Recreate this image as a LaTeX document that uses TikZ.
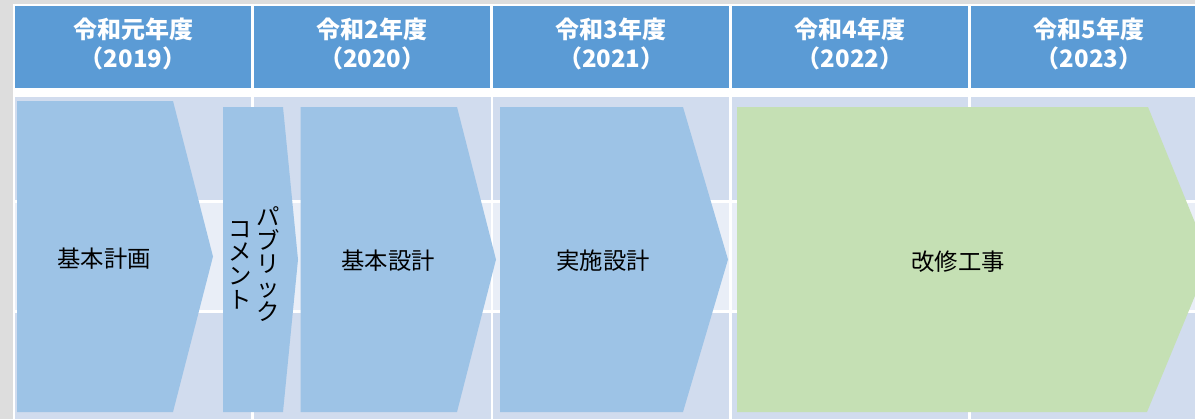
\documentclass[tikz,border=0pt]{standalone}
\usepackage{fontspec}
\setmainfont{Noto Sans CJK JP}
\usepackage{xcolor}
\usetikzlibrary{positioning}

\definecolor{hdrblue}{HTML}{5B9BD5}
\definecolor{rowdark}{HTML}{D1DCEE}
\definecolor{rowlight}{HTML}{E9EEF7}
\definecolor{chevblue}{HTML}{9DC3E6}
\definecolor{chevgreen}{HTML}{C5E0B4}
\definecolor{margingray}{HTML}{DDDDDD}

\begin{document}
\begin{tikzpicture}[x=0.75pt, y=-0.75pt,
  yearcell/.style={fill=hdrblue, minimum width=177pt, minimum height=61.5pt, inner sep=0pt},
  yeartext/.style={text=white, align=center, inner sep=0pt,
    font=\bfseries\fontsize{18}{21.75}\selectfont},
  phasetext/.style={inner sep=0pt, font=\fontsize{17.5}{21}\selectfont},
  tatetext/.style={align=center, inner sep=0pt, font=\fontsize{17.5}{17.7}\selectfont},
  gridline/.style={white, line width=2pt}]
  \useasboundingbox (0,0) rectangle (1195,419);
  \clip (0,0) rectangle (1195,419);

  % page and table background
  \fill[margingray] (0,0) rectangle (1195,419);
  \fill[white] (13,4) rectangle (1195,419);
  \fill[rowdark] (15,96.5) rectangle (1195,419);
  \fill[rowlight] (15,202) rectangle (1195,311);
  \draw[gridline] (15,201.3) -- (1195,201.3);
  \draw[gridline] (15,311.3) -- (1195,311.3);
  \draw[gridline] (252.5,96) -- (252.5,419);
  \draw[gridline] (492,96) -- (492,419);
  \draw[gridline] (730.7,96) -- (730.7,419);
  \draw[gridline] (969.5,96) -- (969.5,419);

  % fiscal years
  \node[yearcell] (h2019) at (133,47) {};
  \node[yearcell] (h2020) at (372.3,47) {};
  \node[yearcell] (h2021) at (611.3,47) {};
  \node[yearcell] (h2022) at (850.2,47) {};
  \node[yearcell] (h2023) at (1089,47) {};
  \node[yeartext, yshift=2.6pt] (t2019) at (h2019) {令和元年度\\（2019）};
  \node[yeartext, yshift=2.6pt] (t2020) at (h2020) {令和2年度\\（2020）};
  \node[yeartext, yshift=2.6pt] (t2021) at (h2021) {令和3年度\\（2021）};
  \node[yeartext, yshift=2.6pt] (t2022) at (h2022) {令和4年度\\（2022）};
  \node[yeartext, yshift=2.6pt] (t2023) at (h2023) {令和5年度\\（2023）};

  % phases
  \fill[chevblue] (17,101) -- (173,101) -- (213,256.5) -- (173,412) -- (17,412) -- cycle;
  \fill[chevblue] (223,107) -- (283,107) -- (298,259.5) -- (283,412) -- (223,412) -- cycle;
  \fill[chevblue] (300.7,107) -- (457,107) -- (496,259.5) -- (457,412) -- (300.7,412) -- cycle;
  \fill[chevblue] (500,107) -- (683,107) -- (728,259.5) -- (683,412) -- (500,412) -- cycle;
  \fill[chevgreen] (737,107) -- (1148,107) -- (1210,259.5) -- (1147,412) -- (737,412) -- cycle;

  \node[phasetext] (kihonkeikaku) at (104,259) {基本計画};
  \node[tatetext] (pubcom1) at (268.5,264) {パ\\ブ\\リ\\ッ\\ク};
  \node[tatetext] (pubcom2) at (240.5,265) {コ\\メ\\ン\\ト};
  \node[phasetext] (kihonsekkei) at (388,260.5) {基本設計};
  \node[phasetext] (jisshisekkei) at (603,261) {実施設計};
  \node[phasetext] (kaishu) at (958,261.5) {改修工事};
\end{tikzpicture}
\end{document}
